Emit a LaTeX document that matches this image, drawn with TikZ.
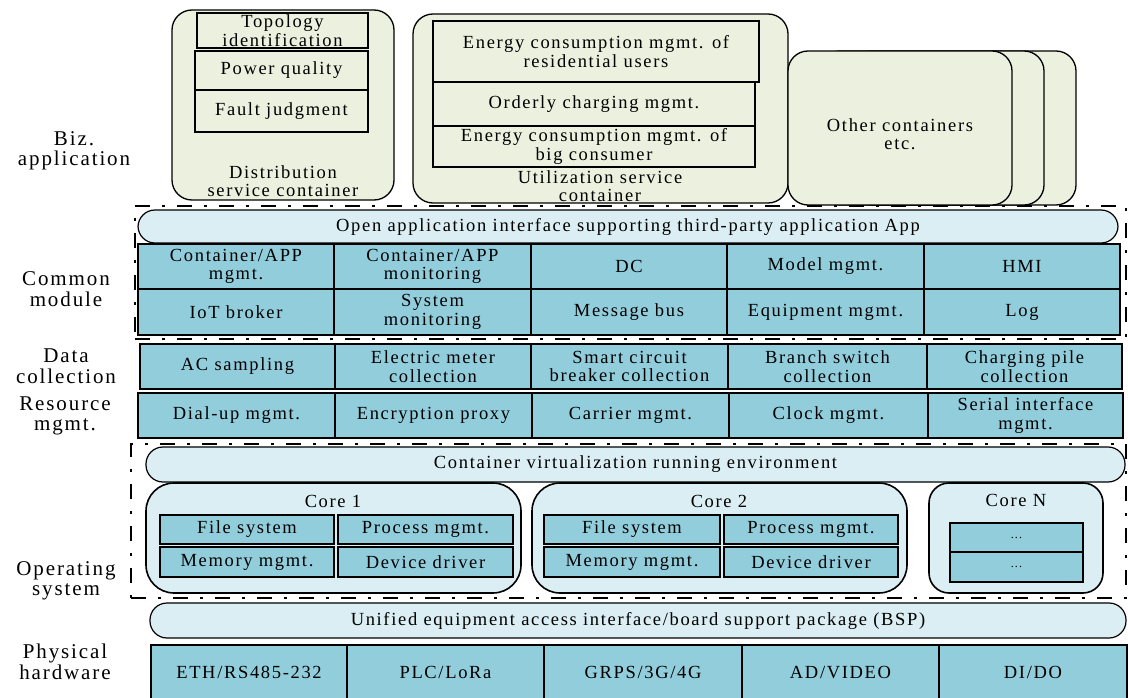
\documentclass[tikz,border=0pt]{standalone}
\usepackage{fontspec}
\setmainfont{Liberation Serif}[LetterSpace=9]
\definecolor{cgreen}{RGB}{235,241,222}
\definecolor{cteal}{RGB}{146,205,220}
\definecolor{cblue}{RGB}{218,238,243}
\newcommand\bx[7]{\node[#7, minimum width={(#4-#2)*1pt}, minimum height={(#5-#3)*1pt}] (#1) at ({(#2+#4)/2},{(#3+#5)/2}) {#6};}
\begin{document}
\begin{tikzpicture}[x=1pt,y=-1pt,
 every node/.style={inner sep=0pt, outer sep=0pt, align=center, font=\fontsize{18.5}{18.5}\selectfont},
 cont/.style={draw, line width=1.3pt, rounded corners=20pt, fill=cgreen},
 gbox/.style={draw, line width=1.2pt, fill=cgreen},
 cell/.style={draw, line width=1.4pt, fill=cteal},
 icell/.style={draw, line width=2pt, fill=cteal},
 pill/.style={draw, line width=1.2pt, rounded corners=17pt, fill=cblue},
 core/.style={draw, line width=1.6pt, rounded corners=28pt, fill=cblue},
 coren/.style={draw, line width=1.6pt, rounded corners=20pt, fill=cblue},
 ddash/.style={draw, line width=2pt, dash pattern=on 15pt off 12pt on 3pt off 12pt},
 lab/.style={font=\fontsize{21}{20.5}\selectfont}
]
\useasboundingbox (0,0) rectangle (1128,698);
\fill[white] (0,0) rectangle (1128,698);

% dashed group boxes
\bx{cmbox}{135}{206}{1126}{339}{}{ddash}
\bx{osbox}{131}{444}{1126}{598}{}{ddash}

% left labels
\node[lab] (lbiz) at (74,151) {Biz.\\application};
\node[lab] (lcom) at (66,289) {Common\\module};
\node[lab] (ldata) at (66,366) {Data\\collection};
\node[lab] (lres) at (65,416) {Resource\\mgmt.};
\node[lab] (los) at (66,581) {Operating\\system};
\node[lab] (lphy) at (65,662) {Physical\\hardware};

% distribution container
\bx{dist}{172}{10}{394}{200}{}{cont}
\node (distlab) at (283,181) {Distribution\\service container};
\bx{topo}{197}{13}{368}{48}{Topology\\identification}{gbox}
\bx{pq}{195}{51}{368}{90}{Power quality}{gbox}
\bx{fault}{195}{90}{368}{132}{Fault judgment}{gbox}

% utilization container
\bx{util}{413}{14}{788}{203}{}{cont}
\node (utillab) at (600,186) {Utilization service\\container};
\bx{eres}{433}{21}{759}{82}{Energy consumption mgmt. of\\residential users}{gbox}
\bx{ochg}{433}{82}{755}{126}{Orderly charging mgmt.}{gbox}
\bx{ebig}{433}{126}{755}{167}{Energy consumption mgmt. of\\big consumer}{gbox}

% other containers
\bx{oth3}{852}{51}{1076}{205}{}{cont}
\bx{oth2}{820}{51}{1044}{205}{}{cont}
\bx{oth1}{788}{51}{1012}{205}{}{cont}
\node (othlab) at (900,134) {Other containers\\etc.};

% common module
\bx{openapi}{138}{210}{1118}{243}{Open application interface supporting third-party application App}{pill}
\bx{cm11}{138}{244}{334}{289}{Container/APP\\mgmt.}{cell}
\bx{cm12}{334}{244}{531}{289}{Container/APP\\monitoring}{cell}
\bx{cm13}{531}{244}{727}{289}{DC}{cell}
\bx{cm14}{727}{244}{924}{289}{Model mgmt.}{cell}
\bx{cm15}{924}{244}{1120}{289}{HMI}{cell}
\bx{cm21}{138}{289}{334}{335}{IoT broker}{cell}
\bx{cm22}{334}{289}{531}{335}{System\\monitoring}{cell}
\bx{cm23}{531}{289}{727}{335}{Message bus}{cell}
\bx{cm24}{727}{289}{924}{335}{Equipment mgmt.}{cell}
\bx{cm25}{924}{289}{1120}{335}{Log}{cell}

% data collection
\bx{dc1}{140}{344}{335}{389}{AC sampling}{cell}
\bx{dc2}{335}{344}{531}{389}{Electric meter\\collection}{cell}
\bx{dc3}{531}{344}{728}{389}{Smart circuit\\breaker collection}{cell}
\bx{dc4}{728}{344}{927}{389}{Branch switch\\collection}{cell}
\bx{dc5}{927}{344}{1122}{389}{Charging pile\\collection}{cell}

% resource mgmt
\bx{rm1}{138}{393}{335}{438}{Dial-up mgmt.}{cell}
\bx{rm2}{335}{393}{532}{438}{Encryption proxy}{cell}
\bx{rm3}{532}{393}{729}{438}{Carrier mgmt.}{cell}
\bx{rm4}{729}{393}{928}{438}{Clock mgmt.}{cell}
\bx{rm5}{928}{393}{1123}{438}{Serial interface\\mgmt.}{cell}

% operating system
\bx{virt}{146}{447}{1125}{482}{Container virtualization running environment}{pill}
\bx{core1}{146}{483}{521}{593}{}{core}
\node (core1lab) at (333,501) {Core 1};
\bx{fs1}{160}{515}{334}{544}{File system}{icell}
\bx{pm1}{338}{515}{513}{544}{Process mgmt.}{icell}
\bx{mm1}{160}{547}{334}{577}{Memory mgmt.}{icell}
\bx{dd1}{338}{547}{513}{577}{Device driver}{icell}
\bx{core2}{532}{483}{907}{593}{}{core}
\node (core2lab) at (719,501) {Core 2};
\bx{fs2}{544}{515}{720}{544}{File system}{icell}
\bx{pm2}{724}{515}{898}{544}{Process mgmt.}{icell}
\bx{mm2}{544}{547}{720}{577}{Memory mgmt.}{icell}
\bx{dd2}{724}{547}{898}{577}{Device driver}{icell}
\bx{coreN}{929}{483}{1103}{593}{}{coren}
\node (coreNlab) at (1016,500) {Core N};
\bx{cn1}{950}{523}{1083}{552}{\fontsize{12}{12}\selectfont ...}{icell}
\bx{cn2}{950}{552}{1083}{582}{\fontsize{12}{12}\selectfont ...}{icell}

% BSP
\bx{bsp}{150}{603}{1126}{638}{Unified equipment access interface/board support package (BSP)}{pill}

% physical hardware
\bx{ph1}{151}{645}{347}{700}{ETH/RS485-232}{cell}
\bx{ph2}{347}{645}{544}{700}{PLC/LoRa}{cell}
\bx{ph3}{544}{645}{742}{700}{GRPS/3G/4G}{cell}
\bx{ph4}{742}{645}{939}{700}{AD/VIDEO}{cell}
\bx{ph5}{939}{645}{1127}{700}{DI/DO}{cell}
\end{tikzpicture}
\end{document}
